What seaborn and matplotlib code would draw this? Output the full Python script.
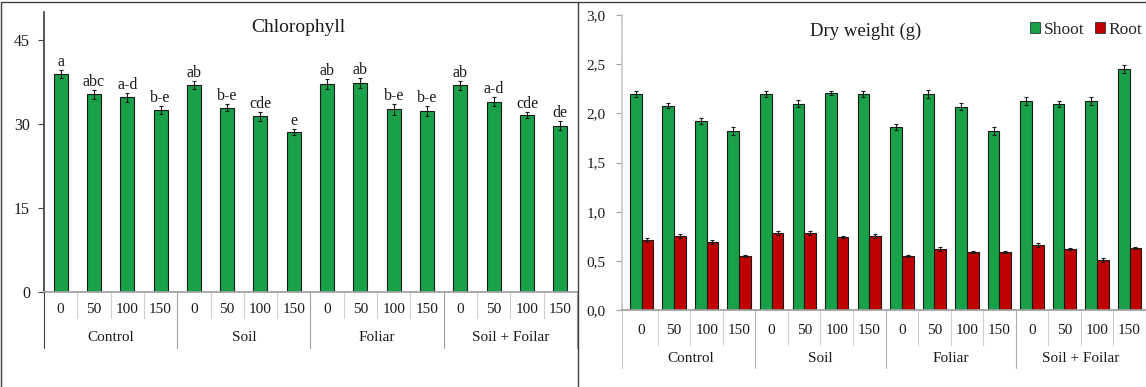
import matplotlib
matplotlib.use("Agg")
import matplotlib.pyplot as plt
from matplotlib.lines import Line2D
from matplotlib.patches import Patch, Rectangle
import numpy as np
import pandas as pd
import seaborn as sns

groups = ["Control", "Soil", "Foliar", "Soil + Foilar"]
doses = ["0", "50", "100", "150"]

chlorophyll = [39.0, 35.3, 34.8, 32.5, 36.9, 32.9, 31.4, 28.6,
               37.2, 37.4, 32.6, 32.3, 36.9, 34.0, 31.6, 29.7]
chlorophyll_err = [0.7, 0.8, 0.8, 0.8, 0.7, 0.6, 0.8, 0.5,
                   0.9, 0.9, 1.0, 0.9, 0.8, 0.8, 0.5, 0.8]
chlorophyll_letters = ["a", "abc", "a-d", "b-e", "ab", "b-e", "cde", "e",
                       "ab", "ab", "b-e", "b-e", "ab", "a-d", "cde", "de"]
chlorophyll_ticks = [0, 15, 30, 45]

shoot = [2.20, 2.08, 1.92, 1.82, 2.20, 2.10, 2.21, 2.20,
         1.86, 2.20, 2.07, 1.82, 2.13, 2.10, 2.13, 2.45]
shoot_err = [0.03, 0.03, 0.03, 0.04, 0.03, 0.04, 0.02, 0.03,
             0.03, 0.04, 0.04, 0.04, 0.04, 0.03, 0.04, 0.04]
root = [0.71, 0.75, 0.69, 0.55, 0.78, 0.78, 0.74, 0.75,
        0.55, 0.62, 0.59, 0.59, 0.66, 0.62, 0.51, 0.63]
root_err = [0.02, 0.02, 0.02, 0.01, 0.02, 0.02, 0.01, 0.02,
            0.01, 0.02, 0.01, 0.01, 0.02, 0.01, 0.02, 0.01]
dry_ticks = [0.0, 0.5, 1.0, 1.5, 2.0, 2.5, 3.0]
dry_tick_labels = ["0,0", "0,5", "1,0", "1,5", "2,0", "2,5", "3,0"]

GREEN = "#18a149"
RED = "#c00000"
TEXT = "#1a1a1a"

sns.set_theme(style="white")
plt.rcParams["font.family"] = ["Liberation Serif", "DejaVu Serif"]

treatments = [f"{g}-{d}" for g in groups for d in doses]


def draw_category_axis(ax, num_y, grp_y, inner_end, outer_end, outer_color):
    trans = ax.get_xaxis_transform()
    for i, t in enumerate(treatments):
        ax.text(i, num_y, doses[i % 4], transform=trans, ha="center", va="center",
                fontsize=11, color=TEXT)
    for k, g in enumerate(groups):
        ax.text(k * 4 + 1.5, grp_y, g, transform=trans, ha="center", va="center",
                fontsize=11, color=TEXT)
    for i in range(1, len(treatments) + 1):
        x = i - 0.5
        if i % 4 == 0:
            ax.add_line(Line2D([x, x], [0, outer_end], transform=trans, color=outer_color,
                               lw=0.8, clip_on=False))
        else:
            ax.add_line(Line2D([x, x], [0, inner_end], transform=trans, color="#d0d0d0",
                               lw=0.8, clip_on=False))


fig = plt.figure(figsize=(11.46, 3.87), dpi=100)

# left panel: chlorophyll
ax1 = fig.add_axes([0.0384, 0.2455, 0.465, 0.7235])
chl_df = pd.DataFrame({"treatment": treatments, "value": chlorophyll})
sns.barplot(data=chl_df, x="treatment", y="value", color=GREEN, width=0.42,
            edgecolor="#1a1a1a", linewidth=0.8, errorbar=None, saturation=1, ax=ax1)
xs = [p.get_x() + p.get_width() / 2 for p in ax1.patches]
ax1.errorbar(xs, chlorophyll, yerr=chlorophyll_err, fmt="none", ecolor="#1a1a1a",
             elinewidth=0.8, capsize=1.5, capthick=0.8)
for x, v, e, lab in zip(xs, chlorophyll, chlorophyll_err, chlorophyll_letters):
    ax1.annotate(lab, (x, v + e), xytext=(0, 0), textcoords="offset points",
                 ha="center", va="bottom", fontsize=11.5, color=TEXT)
ax1.set_ylim(0, 50)
ax1.set_xlim(-0.5, 15.5)
ax1.set_yticks(chlorophyll_ticks)
ax1.set_xticks([])
ax1.set_xlabel("")
ax1.set_ylabel("")
ax1.tick_params(axis="y", left=True, length=4, width=0.8, color="#404040",
                labelsize=11.5, labelcolor=TEXT, pad=6)
sns.despine(ax=ax1, top=True, right=True)
ax1.spines["left"].set_color("#404040")
ax1.spines["bottom"].set_color("#a0a0a0")
ax1.add_line(Line2D([0, 0], [0, -0.2], transform=ax1.transAxes, color="#404040",
                    lw=0.8, clip_on=False))
ax1.text(0.477, 0.943, "Chlorophyll", transform=ax1.transAxes, ha="center",
         va="center", fontsize=14, color=TEXT)
draw_category_axis(ax1, -0.064, -0.164, -0.093, -0.2, "#a0a0a0")

# right panel: dry weight
ax2 = fig.add_axes([0.5428, 0.199, 0.457, 0.762])
dry_df = pd.DataFrame({
    "treatment": treatments * 2,
    "value": shoot + root,
    "part": ["Shoot"] * len(shoot) + ["Root"] * len(root),
})
sns.barplot(data=dry_df, x="treatment", y="value", hue="part",
            palette={"Shoot": GREEN, "Root": RED}, width=0.72, gap=0,
            edgecolor="#1a1a1a", linewidth=0.8, errorbar=None, saturation=1,
            legend=False, ax=ax2)
for cont, vals, errs in zip(ax2.containers, [shoot, root], [shoot_err, root_err]):
    bx = [b.get_x() + b.get_width() / 2 for b in cont]
    ax2.errorbar(bx, vals, yerr=errs, fmt="none", ecolor="#1a1a1a",
                 elinewidth=0.8, capsize=1.5, capthick=0.8)
ax2.set_ylim(0, 3.0)
ax2.set_xlim(-0.6, 15.5)
ax2.set_yticks(dry_ticks)
ax2.set_yticklabels(dry_tick_labels)
ax2.set_xticks([])
ax2.set_xlabel("")
ax2.set_ylabel("")
ax2.tick_params(axis="y", left=True, length=4, width=0.8, color="#a0a0a0",
                labelsize=11, labelcolor=TEXT, pad=8)
sns.despine(ax=ax2, top=True, right=True)
ax2.spines["left"].set_color("#c8c8c8")
ax2.spines["bottom"].set_color("#a0a0a0")
ax2.add_line(Line2D([0, 0], [0, -0.197], transform=ax2.transAxes, color="#c8c8c8",
                    lw=0.8, clip_on=False))
ax2.text(0.466, 0.946, "Dry weight (g)", transform=ax2.transAxes, ha="center",
         va="center", fontsize=13.5, color=TEXT)
handles = [Patch(facecolor=GREEN, edgecolor="#1a1a1a", linewidth=0.5, label="Shoot"),
           Patch(facecolor=RED, edgecolor="#1a1a1a", linewidth=0.5, label="Root")]
ax2.legend(handles=handles, loc="center right", bbox_to_anchor=(1.01, 0.95),
           ncol=2, frameon=False, fontsize=12.5, handlelength=0.6, handleheight=0.6,
           handletextpad=0.2, columnspacing=0.6, borderaxespad=0.1)
draw_category_axis(ax2, -0.071, -0.166, -0.119, -0.197, "#b0b0b0")

# panel frames
fig.add_artist(Rectangle((0.001, -0.01), 0.503, 1.005, transform=fig.transFigure,
                         fill=False, edgecolor="#404040", lw=1.0))
fig.add_artist(Line2D([0.504, 1.0], [0.995, 0.995], transform=fig.transFigure,
                      color="#404040", lw=1.0))

fig.savefig("out.png", dpi=100)
